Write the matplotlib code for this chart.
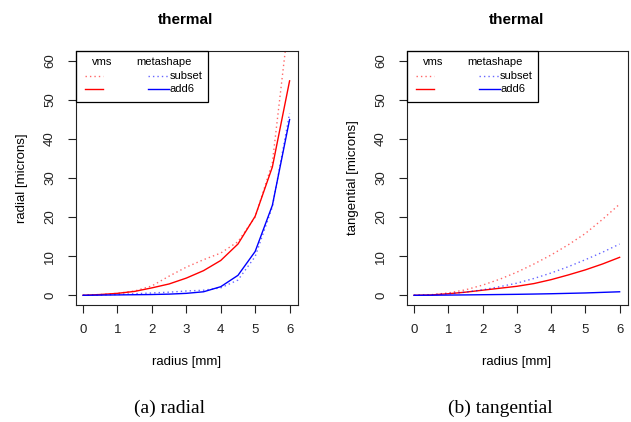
import matplotlib
matplotlib.use("Agg")
import matplotlib.pyplot as plt
from matplotlib.lines import Line2D
from matplotlib.patches import Rectangle

plt.rcParams['font.family'] = ['Liberation Sans', 'DejaVu Sans']

radius = [0, 0.5, 1, 1.5, 2, 2.5, 3, 3.5, 4, 4.5, 5, 5.5, 6]

# radial [microns]
radial_vms_subset = [0, 0.2, 0.5, 1.1, 2.4, 4.9, 7.2, 9.1, 10.8, 13.7, 20.0, 33.9, 72.0]
radial_vms_add6 = [0, 0.2, 0.5, 1.0, 1.9, 2.9, 4.4, 6.3, 8.9, 13.1, 20.2, 32.8, 54.8]
radial_meta_subset = [0, 0.1, 0.2, 0.4, 0.6, 0.8, 1.1, 1.3, 1.9, 3.9, 9.9, 22.6, 46.5]
radial_meta_add6 = [0, 0.05, 0.1, 0.15, 0.2, 0.3, 0.5, 0.9, 2.2, 5.1, 11.2, 23.0, 44.9]

# tangential [microns]
tang_vms_subset = [0, 0.15, 0.6, 1.4, 2.6, 4.1, 5.9, 8.0, 10.3, 12.9, 15.8, 19.4, 23.3]
tang_vms_add6 = [0, 0.1, 0.4, 0.8, 1.3, 1.8, 2.3, 3.0, 4.0, 5.2, 6.5, 8.0, 9.7]
tang_meta_subset = [0, 0.1, 0.4, 0.8, 1.4, 2.2, 3.1, 4.3, 5.7, 7.3, 9.1, 11.0, 13.1]
tang_meta_add6 = [0, 0.02, 0.06, 0.1, 0.15, 0.2, 0.25, 0.32, 0.4, 0.5, 0.6, 0.75, 0.9]

xticks = [0, 1, 2, 3, 4, 5, 6]
yticks = [0, 10, 20, 30, 40, 50, 60]

RED = '#ff0000'
BLUE = '#0000ff'
DOT = (0, (1.0, 2.2))

fig = plt.figure(figsize=(6.31, 4.22), dpi=100)
W, H = 631, 422

def axes_px(l, r, t, b):
    return fig.add_axes([l / W, (H - b) / H, (r - l) / W, (b - t) / H])

panels = [
    (axes_px(75.5, 297.5, 51.5, 304.5), 75.5, 'radial [microns]',
     (radial_vms_subset, radial_vms_add6, radial_meta_subset, radial_meta_add6), 28.5),
    (axes_px(406.5, 627.5, 51.5, 304.5), 406.5, 'tangential [microns]',
     (tang_vms_subset, tang_vms_add6, tang_meta_subset, tang_meta_add6), 358.5),
]

for ax, left_px, ylab, (vs, va, ms, ma), ylx in panels:
    ax.plot(radius, vs, color=RED, lw=1.0, ls=DOT, alpha=0.6)
    ax.plot(radius, va, color=RED, lw=1.0)
    ax.plot(radius, ms, color=BLUE, lw=1.0, ls=DOT, alpha=0.6)
    ax.plot(radius, ma, color=BLUE, lw=1.0)
    ax.set_xlim(-0.22, 6.23)
    ax.set_ylim(-2.35, 62.3)
    ax.set_xticks(xticks)
    ax.set_yticks(yticks)
    ax.set_xticklabels([str(t) for t in xticks])
    ax.set_yticklabels([str(t) for t in yticks], rotation=90, va='center')
    ax.tick_params(direction='out', length=6, width=0.8, labelsize=9.5, pad=8,
                   colors='#222222', labelcolor='#222222')
    for s in ax.spines.values():
        s.set_linewidth(0.8)
        s.set_color('#222222')
    # legend (R-style, two columns with headers)
    ax.add_patch(Rectangle((0, 0.80), 0.596, 0.20, transform=ax.transAxes,
                           fill=False, lw=0.9, ec='black', clip_on=False, zorder=5))
    ax.text(0.121, 0.958, 'vms', transform=ax.transAxes, ha='center', va='center', fontsize=8)
    ax.text(0.399, 0.958, 'metashape', transform=ax.transAxes, ha='center', va='center', fontsize=8)
    ax.add_line(Line2D([0.045, 0.126], [0.902, 0.902], transform=ax.transAxes,
                       color=RED, lw=1.0, ls=DOT, alpha=0.6))
    ax.add_line(Line2D([0.045, 0.126], [0.850, 0.850], transform=ax.transAxes,
                       color=RED, lw=1.0))
    ax.add_line(Line2D([0.327, 0.421], [0.902, 0.902], transform=ax.transAxes,
                       color=BLUE, lw=1.0, ls=DOT, alpha=0.6))
    ax.add_line(Line2D([0.327, 0.421], [0.850, 0.850], transform=ax.transAxes,
                       color=BLUE, lw=1.0))
    ax.text(0.424, 0.902, 'subset', transform=ax.transAxes, ha='left', va='center', fontsize=8)
    ax.text(0.424, 0.850, 'add6', transform=ax.transAxes, ha='left', va='center', fontsize=8)
    ax.set_xlabel('radius [mm]', fontsize=9.5)
    ax.set_ylabel(ylab, fontsize=9.5)
    ax.xaxis.set_label_coords(0.5, (304.5 - 356) / 253)
    ax.yaxis.set_label_coords((ylx - left_px) / 222, 0.5)

fig.text(186 / W, 1 - 20 / H, 'thermal', ha='center', va='center', fontsize=11, fontweight='bold')
fig.text(517 / W, 1 - 20 / H, 'thermal', ha='center', va='center', fontsize=11, fontweight='bold')

fig.text(170 / W, 1 - 408 / H, '(a) radial', ha='center', va='center', fontsize=14,
         family=['Liberation Serif', 'DejaVu Serif'])
fig.text(500 / W, 1 - 408 / H, '(b) tangential', ha='center', va='center', fontsize=14,
         family=['Liberation Serif', 'DejaVu Serif'])

fig.savefig('out.png', dpi=100)
